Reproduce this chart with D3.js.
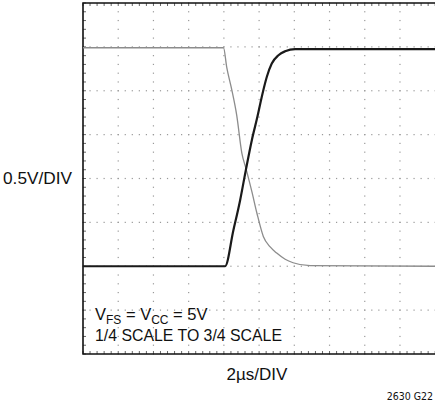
<!DOCTYPE html>
<html>
<head>
<meta charset="utf-8">
<script src="https://cdn.jsdelivr.net/npm/d3@7"></script>
<style>
  html, body { margin: 0; padding: 0; background: #fff; }
  svg { display: block; }
  text { font-family: "Liberation Sans", Arial, Helvetica, sans-serif; fill: #111; }
</style>
</head>
<body>
<svg id="chart" width="435" height="402"></svg>
<script>
// ---- data (time in µs, voltage in V) ----
const timeDomain = [0, 20];          // 10 divisions, 2µs/DIV
const voltDomain = [0.25, 4.25];     // 8 divisions, 0.5V/DIV
const timeGrid = [2, 4, 6, 8, 10, 12, 14, 16, 18];
const voltGrid = [0.75, 1.25, 1.75, 2.25, 2.75, 3.25, 3.75];

// rising output (black): 1/4 scale -> 3/4 scale
const risingT = [0, 8.07, 8.54, 8.92, 9.26, 9.59, 9.90, 10.15, 10.44, 10.72, 11.10, 11.48, 12.05, 20];
const risingV = [1.25, 1.25, 1.66, 2.00, 2.36, 2.69, 2.95, 3.18, 3.41, 3.56, 3.655, 3.70, 3.725, 3.725];

// falling output (gray): 3/4 scale -> 1/4 scale
const fallingT = [0, 7.98, 8.16, 8.45, 8.73, 9.02, 9.26, 9.59, 9.87, 10.24, 10.63, 11.0, 11.48, 11.93, 12.9, 20];
const fallingV = [3.74, 3.74, 3.52, 3.26, 2.97, 2.54, 2.36, 2.10, 1.86, 1.59, 1.47, 1.40, 1.33, 1.29, 1.256, 1.25];

const yLabel = "0.5V/DIV";
const xLabel = "2µs/DIV";
const noteId = "2630 G22";

// ---- layout ----
const svg = d3.select("#chart");
const L = 83, R = 435.2, T = 3, B = 354;
const x = d3.scaleLinear().domain(timeDomain).range([L, R]);
const y = d3.scaleLinear().domain(voltDomain).range([B, T]);

const g = svg.append("g");

// dotted grid: vertical lines (dots every 0.1 V)
const vDots = d3.range(voltDomain[0], voltDomain[1] + 1e-9, 0.1);
timeGrid.forEach(t => {
  g.append("g").selectAll("rect").data(vDots).join("rect")
    .attr("x", x(t) - 0.6).attr("y", d => y(d) - 0.6)
    .attr("width", 1.2).attr("height", 1.2).attr("fill", "#999");
});
// horizontal lines (dots every 0.4 µs)
const hDots = d3.range(timeDomain[0], timeDomain[1] + 1e-9, 0.4);
voltGrid.forEach(v => {
  g.append("g").selectAll("rect").data(hDots).join("rect")
    .attr("x", d => x(d) - 0.6).attr("y", y(v) - 0.6)
    .attr("width", 1.2).attr("height", 1.2).attr("fill", "#999");
});

// minor ticks on frame
const tickLen = 3;
g.append("g").selectAll("line").data(hDots).join("line")
  .attr("x1", d => x(d)).attr("x2", d => x(d))
  .attr("y1", T).attr("y2", T + tickLen)
  .attr("stroke", "#666").attr("stroke-width", 1);
g.append("g").selectAll("line").data(hDots).join("line")
  .attr("x1", d => x(d)).attr("x2", d => x(d))
  .attr("y1", B).attr("y2", B - tickLen)
  .attr("stroke", "#666").attr("stroke-width", 1);
g.append("g").selectAll("line").data(vDots).join("line")
  .attr("x1", L).attr("x2", L + tickLen)
  .attr("y1", d => y(d)).attr("y2", d => y(d))
  .attr("stroke", "#666").attr("stroke-width", 1);

// frame
g.append("path")
  .attr("d", `M${R + 2},${T} H${L} V${B} H${R + 2}`)
  .attr("fill", "none").attr("stroke", "#111").attr("stroke-width", 1.6);

// traces
const line = d3.line().x(d => x(d[0])).y(d => y(d[1])).curve(d3.curveMonotoneX);
g.append("path")
  .datum(fallingT.map((t, i) => [t, fallingV[i]]))
  .attr("d", line).attr("fill", "none")
  .attr("stroke", "#8c8c8c").attr("stroke-width", 1.3);
g.append("path")
  .datum(risingT.map((t, i) => [t, risingV[i]]))
  .attr("d", line).attr("fill", "none")
  .attr("stroke", "#1a1a1a").attr("stroke-width", 2.2);

// labels
svg.append("text").attr("x", 3).attr("y", 184)
  .attr("font-size", 17).attr("textLength", 69).attr("lengthAdjust", "spacingAndGlyphs")
  .text(yLabel);
svg.append("text").attr("x", 257).attr("y", 380)
  .attr("text-anchor", "middle").attr("font-size", 17).text(xLabel);
svg.append("text").attr("x", 433).attr("y", 400)
  .attr("text-anchor", "end").attr("font-size", 10.5)
  .style("font-family", '"Liberation Sans Narrow", "DejaVu Sans Condensed", sans-serif')
  .text(noteId);

// annotation
const n1 = svg.append("text").attr("x", 95).attr("y", 320).attr("font-size", 16.5);
n1.append("tspan").text("V");
n1.append("tspan").attr("font-size", 12).attr("dy", 4).text("FS");
n1.append("tspan").attr("dy", -4).text(" = V");
n1.append("tspan").attr("font-size", 12).attr("dy", 4).text("CC");
n1.append("tspan").attr("dy", -4).text(" = 5V");
svg.append("text").attr("x", 95).attr("y", 341).attr("font-size", 16.5)
  .attr("textLength", 187).attr("lengthAdjust", "spacingAndGlyphs")
  .text("1/4 SCALE TO 3/4 SCALE");
</script>
</body>
</html>
